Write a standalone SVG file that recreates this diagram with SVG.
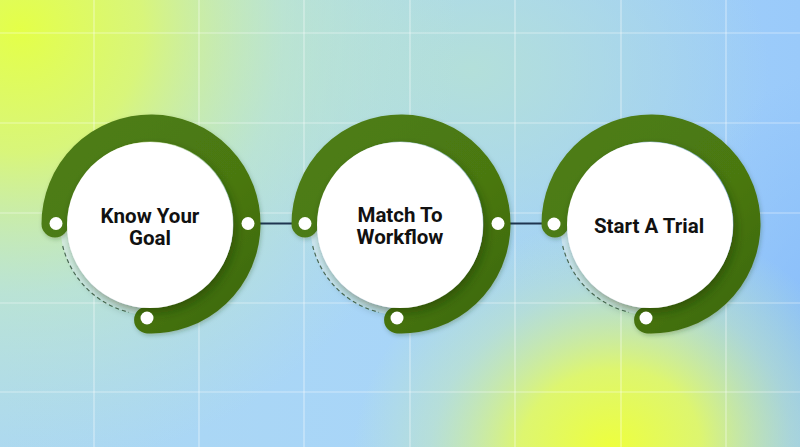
<svg xmlns="http://www.w3.org/2000/svg" width="800" height="447" viewBox="0 0 800 447">
  <defs>
    <linearGradient id="bgBase" x1="0" y1="0" x2="1" y2="0">
      <stop offset="0" stop-color="#acd8f2"/>
      <stop offset="0.5" stop-color="#a8d5f8"/>
      <stop offset="1" stop-color="#9acafa"/>
    </linearGradient>
    <radialGradient id="yelTL" cx="20" cy="30" r="440" gradientUnits="userSpaceOnUse">
      <stop offset="0" stop-color="#e4ff48" stop-opacity="1"/>
      <stop offset="0.28" stop-color="#dcf870" stop-opacity="0.92"/>
      <stop offset="0.6" stop-color="#c8eeb8" stop-opacity="0.5"/>
      <stop offset="1" stop-color="#c0e8c8" stop-opacity="0"/>
    </radialGradient>
    <radialGradient id="tealTop" cx="0" cy="0" r="1" gradientUnits="userSpaceOnUse" gradientTransform="translate(470 70) scale(300 220)">
      <stop offset="0" stop-color="#b4e0d8" stop-opacity="0.95"/>
      <stop offset="1" stop-color="#b4e0d8" stop-opacity="0"/>
    </radialGradient>
    <radialGradient id="yelBR" cx="0" cy="0" r="1" gradientUnits="userSpaceOnUse" gradientTransform="translate(610 450) rotate(-15) scale(260 230)">
      <stop offset="0" stop-color="#eeff3c" stop-opacity="1"/>
      <stop offset="0.35" stop-color="#e4fa60" stop-opacity="0.9"/>
      <stop offset="0.7" stop-color="#cdeeaa" stop-opacity="0.4"/>
      <stop offset="1" stop-color="#c8f0b0" stop-opacity="0"/>
    </radialGradient>
    <radialGradient id="blueR" cx="0" cy="0" r="1" gradientUnits="userSpaceOnUse" gradientTransform="translate(830 330) scale(160 260)">
      <stop offset="0" stop-color="#88bdfa" stop-opacity="1"/>
      <stop offset="1" stop-color="#88bdfa" stop-opacity="0"/>
    </radialGradient>
    <filter id="shadow" x="-30%" y="-30%" width="160%" height="160%">
      <feDropShadow dx="3" dy="5" stdDeviation="5" flood-color="#1c3300" flood-opacity="0.45"/>
    </filter>
    <filter id="ringShadow" x="-30%" y="-30%" width="160%" height="160%">
      <feDropShadow dx="1" dy="2" stdDeviation="2" flood-color="#20400a" flood-opacity="0.25"/>
    </filter>
    <linearGradient id="ringGrad" x1="0" y1="0" x2="1" y2="1">
      <stop offset="0" stop-color="#4e7d14"/>
      <stop offset="0.6" stop-color="#4a7811"/>
      <stop offset="1" stop-color="#3c6808"/>
    </linearGradient>
  </defs>
  <style>
    .ring { fill: none; stroke: url(#ringGrad); stroke-width: 27; stroke-linecap: round; }
    .disc { fill: #ffffff; }
    .dot { fill: #ffffff; }
    .dash { fill: none; stroke: #4b6a55; stroke-width: 1.2; stroke-dasharray: 4 3; }
    .pale { fill: #e2f2f6; opacity: 0.6; }
    .lbl { font-family: Roboto, "Liberation Sans", Arial, sans-serif; font-weight: 700; font-size: 20.5px; fill: #111111; text-anchor: middle; }
    .grid { stroke: #ffffff; stroke-opacity: 0.45; stroke-width: 1.2; }
    .conn { stroke: #1f3550; stroke-width: 2.2; }
  </style>

  <!-- background -->
  <rect x="0" y="0" width="800" height="447" fill="url(#bgBase)"/>
  <rect x="0" y="0" width="800" height="447" fill="url(#tealTop)"/>
  <rect x="0" y="0" width="800" height="447" fill="url(#blueR)"/>
  <rect x="0" y="0" width="800" height="447" fill="url(#yelTL)"/>
  <rect x="0" y="0" width="800" height="447" fill="url(#yelBR)"/>

  <g id="grid">
    <line class="grid" x1="94" y1="0" x2="94" y2="447"/>
    <line class="grid" x1="199" y1="0" x2="199" y2="447"/>
    <line class="grid" x1="304" y1="0" x2="304" y2="447"/>
    <line class="grid" x1="410" y1="0" x2="410" y2="447"/>
    <line class="grid" x1="515" y1="0" x2="515" y2="447"/>
    <line class="grid" x1="621" y1="0" x2="621" y2="447"/>
    <line class="grid" x1="726" y1="0" x2="726" y2="447"/>
    <line class="grid" x1="0" y1="33" x2="800" y2="33"/>
    <line class="grid" x1="0" y1="123" x2="800" y2="123"/>
    <line class="grid" x1="0" y1="213" x2="800" y2="213"/>
    <line class="grid" x1="0" y1="303" x2="800" y2="303"/>
    <line class="grid" x1="0" y1="392" x2="800" y2="392"/>
  </g>

  <g id="connectors">
    <line class="conn" x1="248" y1="223.5" x2="305" y2="223.5"/>
    <line class="conn" x1="498" y1="223.5" x2="555" y2="223.5"/>
  </g>

  <g id="node1" transform="translate(151 224)">
    <path class="pale" d="M -90.6 8 A 91 91 0 0 0 -8 90.6 L -7 79.7 A 80 80 0 0 1 -79.7 7 Z"/>
    <path class="dash" d="M -88.3 22 A 91 91 0 0 0 -22 88.3"/>
    <path class="ring" filter="url(#ringShadow)" d="M -96 0 A 96 96 0 1 1 -3.4 95.9"/>
    <circle class="disc" cx="-1" cy="1" r="83" filter="url(#shadow)"/>
    <circle class="dot" cx="-95" cy="-0.5" r="6.5"/>
    <circle class="dot" cx="97" cy="-0.5" r="6.5"/>
    <circle class="dot" cx="-4" cy="94" r="6.5"/>
    <text class="lbl" x="-1" y="-1">Know Your</text>
    <text class="lbl" x="-1" y="21">Goal</text>
  </g>

  <g id="node2" transform="translate(401 224)">
    <path class="pale" d="M -90.6 8 A 91 91 0 0 0 -8 90.6 L -7 79.7 A 80 80 0 0 1 -79.7 7 Z"/>
    <path class="dash" d="M -88.3 22 A 91 91 0 0 0 -22 88.3"/>
    <path class="ring" filter="url(#ringShadow)" d="M -96 0 A 96 96 0 1 1 -3.4 95.9"/>
    <circle class="disc" cx="-1" cy="1" r="83" filter="url(#shadow)"/>
    <circle class="dot" cx="-96" cy="-0.5" r="6.5"/>
    <circle class="dot" cx="97" cy="-0.5" r="6.5"/>
    <circle class="dot" cx="-4" cy="94" r="6.5"/>
    <text class="lbl" x="-1" y="-2">Match To</text>
    <text class="lbl" x="-1" y="20">Workflow</text>
  </g>

  <g id="node3" transform="translate(651 224)">
    <path class="pale" d="M -90.6 8 A 91 91 0 0 0 -8 90.6 L -7 79.7 A 80 80 0 0 1 -79.7 7 Z"/>
    <path class="dash" d="M -88.3 22 A 91 91 0 0 0 -22 88.3"/>
    <path class="ring" filter="url(#ringShadow)" d="M -96 0 A 96 96 0 1 1 -3.4 95.9"/>
    <circle class="disc" cx="-1" cy="1" r="83" filter="url(#shadow)"/>
    <circle class="dot" cx="-97" cy="0" r="6.5"/>
    <circle class="dot" cx="-5" cy="94" r="6.5"/>
    <text class="lbl" x="-2" y="9">Start A Trial</text>
  </g>
</svg>
